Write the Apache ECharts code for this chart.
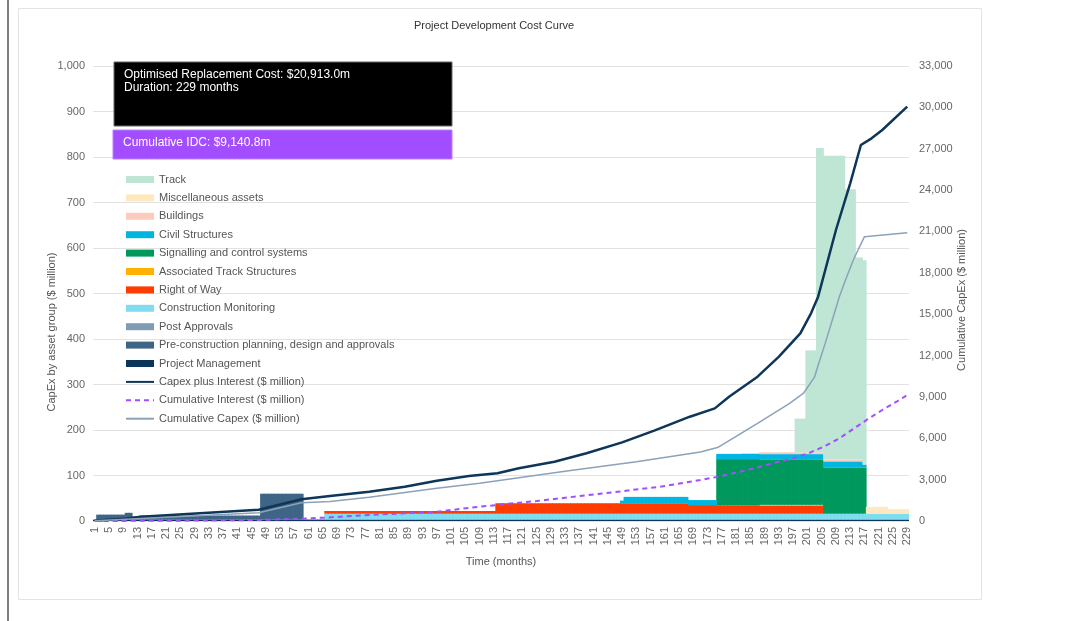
<!DOCTYPE html>
<html><head><meta charset="utf-8">
<script src="https://cdn.jsdelivr.net/npm/echarts@6/dist/echarts.min.js"></script>
<style>html,body{margin:0;padding:0;background:#fff;}#c{width:1078px;height:621px;}</style>
</head><body><div id="c"></div>
<script>
// ---- categories ----
const N_MONTHS = 229;
const months = Array.from({length: N_MONTHS}, (_, i) => String(i + 1));

// ---- monthly CapEx by asset group ($ million): [firstMonth, lastMonth, value] runs ----
const projectManagement = [[1, 229, 3]];
const preConstruction = [[2, 9, 11], [10, 11, 15], [12, 13, 7], [14, 47, 9], [48, 59, 57]];
const postApprovals = [[60, 229, 1]];
const constructionMonitoring = [[66, 229, 12]];
const rightOfWay = [[66, 113, 6], [114, 167, 23], [168, 175, 19], [176, 205, 18]];
const associatedTrackStructures = [[188, 205, 1.5]];
const signalling = [[176, 187, 102], [188, 205, 100], [206, 217, 101]];
const civilStructures = [[149, 149, 6], [150, 167, 14], [168, 175, 11], [176, 205, 11.5], [206, 216, 14], [217, 217, 7]];
const buildings = [[183, 187, 2], [188, 205, 4], [206, 217, 4]];
const miscAssets = [[218, 223, 15], [224, 229, 10]];
const track = [[198, 200, 74], [201, 203, 224], [204, 205, 669], [206, 211, 668], [212, 214, 594], [215, 216, 444], [217, 217, 445]];

// ---- cumulative lines ($ million): [month, value] points ----
const capexPlusInterest = [[1,15],[10,180],[14,300],[47,820],[59,1575],[67,1810],[78,2125],[88,2490],[97,2920],[106,3260],[114,3460],[120,3820],[130,4300],[139,4910],[149,5700],[158,6550],[168,7565],[175,8170],[179,9016],[187,10466],[193,11917],[199,13614],[202,15064],[204,16269],[206,18205],[209,21106],[213,24493],[216,27271],[219,27755],[222,28359],[229,30054]];
const cumulativeInterest = [[1,0],[30,30],[47,72],[59,169],[66,250],[78,435],[97,675],[109,1037],[125,1450],[144,2009],[160,2500],[171,2974],[176,3213],[185,3750],[194,4374],[198,4620],[202,4990],[206,5450],[210,6000],[214,6700],[218,7400],[222,8050],[226,8650],[229,9141]];
const cumulativeCapex = [[1,10],[14,190],[47,600],[59,1330],[67,1420],[78,1719],[97,2372],[109,2732],[134,3648],[153,4300],[171,5000],[176,5350],[187,7086],[196,8536],[200,9300],[203,10450],[204,11300],[206,12900],[208,14600],[210,16300],[212,17700],[214,19000],[217,20620],[229,20913]];

// ---- tick labels ----
const leftTicks = {min: 0, max: 1000, interval: 100};
const rightTicks = {min: 0, max: 33000, interval: 3000};

function expandRuns(runs) {
  const out = months.map(() => 0);
  runs.forEach(([a, b, v]) => { for (let m = a; m <= b; m++) out[m - 1] = v; });
  return out;
}
function toPoints(pts) { return pts.map(([m, v]) => [String(m), v]); }

const FONT = 'Liberation Sans, Arial, sans-serif';
const barGroups = [
  {name: 'Project Management', runs: projectManagement, color: '#0c355a'},
  {name: 'Pre-construction planning, design and approvals', runs: preConstruction, color: '#3e6586'},
  {name: 'Post Approvals', runs: postApprovals, color: '#7f9cb4'},
  {name: 'Construction Monitoring', runs: constructionMonitoring, color: '#80ddef'},
  {name: 'Right of Way', runs: rightOfWay, color: '#ff3c00'},
  {name: 'Associated Track Structures', runs: associatedTrackStructures, color: '#ffb000'},
  {name: 'Signalling and control systems', runs: signalling, color: '#00985d'},
  {name: 'Civil Structures', runs: civilStructures, color: '#00b6e0'},
  {name: 'Buildings', runs: buildings, color: '#fdcbbe'},
  {name: 'Miscellaneous assets', runs: miscAssets, color: '#fde8bf'},
  {name: 'Track', runs: track, color: '#bfe5d5'}
];

const series = barGroups.map(g => ({
  name: g.name, type: 'bar', stack: 'capex', yAxisIndex: 0,
  barWidth: 4.3,
  itemStyle: {color: g.color},
  emphasis: {disabled: true},
  data: expandRuns(g.runs)
}));
const lineDefs = [
  {name: 'Capex plus Interest ($ million)', pts: capexPlusInterest, color: '#0d3658', width: 2.5, type: 'solid'},
  {name: 'Cumulative Interest ($ million)', pts: cumulativeInterest, color: '#a24dff', width: 2, type: [5, 4]},
  {name: 'Cumulative Capex ($ million)', pts: cumulativeCapex, color: '#8ca2b8', width: 1.5, type: 'solid'}
];
lineDefs.forEach(l => series.push({
  name: l.name, type: 'line', yAxisIndex: 1, symbol: 'none', showSymbol: false, z: 5,
  lineStyle: {color: l.color, width: l.width, type: l.type}, itemStyle: {color: l.color},
  emphasis: {disabled: true}, data: toPoints(l.pts)
}));

const legendOrder = barGroups.slice().reverse().map(g => ({name: g.name, icon: 'rect'}))
  .concat(lineDefs.map(l => ({name: l.name, itemStyle: {opacity: 0}})));

const fmt = v => Number(v).toLocaleString('en-US');

const chart = echarts.init(document.getElementById('c'), null, {renderer: 'canvas'});
chart.setOption({
  animation: false,
  backgroundColor: '#fff',
  textStyle: {fontFamily: FONT},
  title: {text: 'Project Development Cost Curve', left: 409, top: 15,
    textStyle: {fontSize: 11, fontWeight: 'normal', color: '#333', fontFamily: FONT}},
  grid: {left: 93, right: 169, top: 66, bottom: 100, containLabel: false},
  legend: {
    orient: 'vertical', left: 120, top: 169, itemWidth: 28, itemHeight: 7, itemGap: 7.4,
    textStyle: {fontSize: 11, color: '#555', fontFamily: FONT},
    data: legendOrder
  },
  xAxis: {
    type: 'category', data: months, boundaryGap: true,
    name: 'Time (months)', nameLocation: 'middle', nameGap: 35,
    nameTextStyle: {fontSize: 11, color: '#555', fontFamily: FONT},
    axisLine: {show: false}, axisTick: {show: false},
    axisLabel: {rotate: 90, interval: 3, fontSize: 11, color: '#666', margin: 6, fontFamily: FONT}
  },
  yAxis: [
    {type: 'value', min: leftTicks.min, max: leftTicks.max, interval: leftTicks.interval,
     axisLine: {show: false}, axisTick: {show: false},
     axisLabel: {fontSize: 11, color: '#666', margin: 8, formatter: fmt, fontFamily: FONT},
     splitLine: {lineStyle: {color: '#e2e2e2', width: 1}}},
    {type: 'value', min: rightTicks.min, max: rightTicks.max, interval: rightTicks.interval,
     axisLine: {show: false}, axisTick: {show: false},
     axisLabel: {fontSize: 11, color: '#666', margin: 10, formatter: fmt, fontFamily: FONT},
     splitLine: {show: false}}
  ],
  graphic: [
    {type: 'rect', silent: true, z: -10, shape: {x: 18.5, y: 8.5, width: 963, height: 591},
     style: {fill: 'none', stroke: '#e3e3e3', lineWidth: 1}},
    {type: 'line', silent: true, shape: {x1: 8, y1: 0, x2: 8, y2: 621},
     style: {stroke: '#555', lineWidth: 1.5}},
    {type: 'text', silent: true, x: 52, y: 332, rotation: Math.PI / 2,
     style: {text: 'CapEx by asset group ($ million)', fill: '#555', font: '11px ' + FONT, textAlign: 'center', textVerticalAlign: 'middle'}},
    {type: 'text', silent: true, x: 962, y: 300, rotation: Math.PI / 2,
     style: {text: 'Cumulative CapEx ($ million)', fill: '#555', font: '11px ' + FONT, textAlign: 'center', textVerticalAlign: 'middle'}},
    {type: 'rect', silent: true, z: 100, shape: {x: 114, y: 62, width: 338, height: 64},
     style: {fill: '#000', stroke: '#666', lineWidth: 1}},
    {type: 'text', silent: true, z: 101, x: 124, y: 68,
     style: {text: 'Optimised Replacement Cost: $20,913.0m\nDuration: 229 months', fill: '#fff', font: '12px ' + FONT, lineHeight: 13}},
    {type: 'rect', silent: true, z: 100, shape: {x: 113, y: 130, width: 339, height: 29},
     style: {fill: '#a24dff', stroke: '#b980ff', lineWidth: 1}},
    {type: 'text', silent: true, z: 101, x: 123, y: 143,
     style: {text: 'Cumulative IDC: $9,140.8m', fill: '#fff', font: '12px ' + FONT, textVerticalAlign: 'middle'}}
  ],
  series: series
});
</script></body></html>
